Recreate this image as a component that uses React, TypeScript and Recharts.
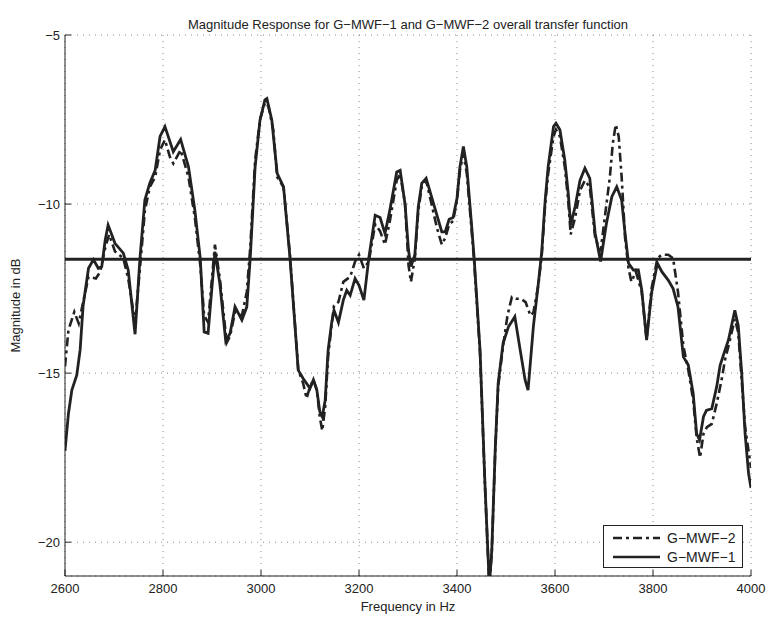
import React from 'react';
import {
  LineChart,
  Line,
  XAxis,
  YAxis,
  CartesianGrid,
  ReferenceLine,
  Legend
} from 'recharts';

// G-MWF-1 (solid)
const freq1 = [
  2600, 2607, 2614, 2624, 2631, 2637, 2648, 2658, 2668, 2675, 2682, 2688, 2702, 2719, 2729, 2743,
  2753, 2763, 2773, 2784, 2794, 2804, 2821, 2836, 2852, 2865, 2876, 2884, 2892, 2906, 2916, 2928,
  2937, 2947, 2961, 2971, 2978, 2988, 2998, 3008, 3012, 3022, 3033, 3046, 3059, 3069, 3076, 3086,
  3100, 3107, 3114, 3120, 3125, 3131, 3137, 3144, 3149, 3158, 3168, 3175, 3182, 3192, 3200, 3210,
  3220, 3233, 3243, 3253, 3263, 3277, 3284, 3294, 3301, 3306, 3314, 3321, 3328, 3337, 3348, 3359,
  3369, 3376, 3384, 3392, 3400, 3406, 3413, 3420, 3430, 3435, 3447, 3457, 3466, 3471, 3478, 3484,
  3494, 3505, 3518, 3529, 3539, 3545, 3556, 3566, 3573, 3580, 3586, 3597, 3602, 3610, 3620, 3627,
  3632, 3641, 3651, 3661, 3671, 3682, 3693, 3705, 3716, 3726, 3736, 3743, 3750, 3760, 3770, 3777,
  3787, 3797, 3809, 3818, 3831, 3841, 3851, 3862, 3872, 3882, 3889, 3895, 3903, 3909, 3920, 3930,
  3937, 3947, 3954, 3967, 3974, 3981, 3988, 3995, 4000
];
const mag1 = [
  -17.3, -16.2, -15.5, -15.06, -14.3, -13.0, -11.9, -11.64, -11.9, -11.85, -11.07, -10.62, -11.16, -11.45, -11.95, -13.85,
  -11.6, -9.88, -9.38, -9.0, -8.0, -7.71, -8.45, -8.09, -8.9, -10.18, -11.6, -13.78, -13.82, -11.41, -12.35, -14.05,
  -13.82, -13.04, -13.43, -13.04, -11.6, -8.9, -7.51, -6.92, -6.88, -7.51, -9.09, -9.49, -11.56, -13.53, -14.91, -15.16,
  -15.45, -15.2, -15.5, -16.14, -16.29, -15.8, -14.32, -13.53, -13.14, -13.5, -12.84, -12.55, -12.7, -12.2, -12.4, -12.84,
  -11.6, -10.33, -10.4, -10.87, -10.18, -9.05, -9.0, -10.0, -11.36, -11.85, -11.5, -10.08, -9.39, -9.24, -9.78, -10.33,
  -10.82, -10.82, -10.45, -10.4, -9.83, -8.9, -8.3, -8.9, -10.67, -11.6, -14.32, -18.26, -21.3, -20.24, -17.28, -15.3,
  -14.12, -13.63, -13.33, -14.32, -15.2, -15.5, -13.6, -12.35, -11.4, -9.88, -8.9, -7.71, -7.61, -7.8, -8.7, -9.68,
  -10.62, -10.08, -9.3, -8.94, -9.24, -10.87, -11.7, -10.57, -9.78, -9.49, -9.88, -10.87, -11.75, -11.95, -11.95, -12.54,
  -14.02, -12.64, -11.75, -12.0, -12.25, -12.5, -13.04, -14.52, -14.76, -15.6, -16.79, -16.98, -16.29, -16.1, -16.05, -15.4,
  -14.77, -14.32, -14.02, -13.14, -13.6, -15.0, -16.8, -17.96, -18.4
];

// G-MWF-2 (dash-dot)
const freq2 = [
  2600, 2607, 2619, 2628, 2637, 2648, 2663, 2672, 2682, 2690, 2702, 2719, 2729, 2743, 2753, 2763,
  2773, 2784, 2794, 2804, 2814, 2821, 2836, 2852, 2865, 2876, 2884, 2892, 2906, 2916, 2930, 2937,
  2947, 2961, 2971, 2978, 2988, 2998, 3008, 3015, 3025, 3033, 3046, 3059, 3069, 3076, 3086, 3093,
  3100, 3107, 3114, 3120, 3125, 3131, 3137, 3144, 3149, 3158, 3168, 3182, 3192, 3200, 3210, 3220,
  3233, 3243, 3253, 3263, 3277, 3284, 3294, 3301, 3306, 3314, 3321, 3328, 3337, 3348, 3359, 3369,
  3376, 3384, 3392, 3400, 3406, 3413, 3420, 3430, 3435, 3447, 3457, 3466, 3471, 3478, 3484, 3494,
  3503, 3512, 3520, 3530, 3540, 3550, 3556, 3566, 3573, 3580, 3586, 3597, 3602, 3610, 3620, 3627,
  3632, 3641, 3651, 3661, 3671, 3682, 3693, 3705, 3712, 3718, 3724, 3730, 3736, 3743, 3750, 3756,
  3765, 3777, 3787, 3797, 3809, 3818, 3831, 3841, 3851, 3862, 3872, 3882, 3889, 3896, 3903, 3910,
  3920, 3930, 3940, 3947, 3954, 3967, 3974, 3981, 3988, 3995, 4000
];
const mag2 = [
  -14.8, -13.73, -13.19, -13.53, -12.9, -12.15, -12.2, -12.0, -11.3, -10.9, -11.4, -11.6, -12.2, -13.5, -11.9, -10.2,
  -9.5, -9.2, -8.4, -8.1, -8.6, -8.8, -8.4, -9.2, -10.4, -11.8, -13.3, -13.5, -11.2, -12.2, -14.1, -13.9,
  -13.2, -13.3, -12.6, -11.3, -8.7, -7.5, -7.0, -7.1, -7.8, -9.2, -9.5, -11.5, -13.5, -14.9, -15.3, -15.75,
  -15.4, -15.2, -15.5, -16.3, -16.7, -16.0, -14.5, -13.6, -13.0, -12.9, -12.3, -12.15, -11.7, -11.5, -11.9, -11.7,
  -10.6, -10.8, -11.2, -10.5, -9.3, -9.1, -10.0, -11.8, -12.3, -11.6, -10.2, -9.5, -9.3, -10.0, -10.7, -11.2,
  -11.0, -10.6, -10.5, -9.9, -9.0, -8.5, -9.1, -10.8, -11.7, -14.4, -18.3, -21.3, -20.3, -17.3, -15.4, -14.2,
  -13.3, -12.75, -12.8, -12.8, -12.9, -13.3, -13.2, -12.4, -11.5, -10.0, -9.1, -8.0, -7.8, -8.0, -8.9, -9.9,
  -10.9, -10.4, -9.6, -9.3, -9.5, -11.0, -11.4, -10.0, -9.2, -8.2, -7.65, -8.0, -9.2, -11.0, -11.9, -12.3,
  -12.0, -12.6, -14.0, -12.5, -11.6, -11.5, -11.5, -11.6, -12.6, -14.2, -14.9, -15.8, -16.9, -17.5, -16.8, -16.6,
  -16.5, -15.9, -15.2, -14.6, -14.2, -13.4, -13.8, -15.2, -16.6, -17.3, -17.8
];

const xTicks = [2600, 2800, 3000, 3200, 3400, 3600, 3800, 4000];
const yTicks = [-20, -15, -10, -5];
const thresholdDb = -11.63;
const legendNames = ['G\u2212MWF\u22122', 'G\u2212MWF\u22121'];

const font = '"Liberation Sans", Arial, Helvetica, sans-serif';
const ink = '#222';
const dashDot = '9 4 3 4';

const series1 = freq1.map((f, i) => ({ x: f, y: mag1[i] }));
const series2 = freq2.map((f, i) => ({ x: f, y: mag2[i] }));

const fmt = (v: number) => String(v).replace('-', '\u2212');

const renderLegend = () => (
  <svg width={140} height={43} style={{ display: 'block' }}>
    <rect x={0.5} y={0.5} width={139} height={42} fill="#fff" stroke={ink} strokeWidth={1} />
    <line x1={10} x2={57} y1={13} y2={13} stroke={ink} strokeWidth={2.5} strokeDasharray={dashDot} />
    <text x={64} y={18} fontFamily={font} fontSize={14} fill={ink}>{legendNames[0]}</text>
    <line x1={10} x2={57} y1={32} y2={32} stroke={ink} strokeWidth={2.5} />
    <text x={64} y={37} fontFamily={font} fontSize={14} fill={ink}>{legendNames[1]}</text>
  </svg>
);

const App: React.FC = () => {
  return (
    <div style={{ position: 'absolute', left: 0, top: 0, width: 767, height: 617, background: '#fff', fontFamily: font }}>
      <div
        style={{
          position: 'absolute',
          left: 65,
          width: 686,
          top: 17,
          textAlign: 'center',
          fontSize: 13,
          color: ink
        }}
      >
        Magnitude Response for G{'\u2212'}MWF{'\u2212'}1 and G{'\u2212'}MWF{'\u2212'}2 overall transfer function
      </div>
      <LineChart
        width={767}
        height={617}
        margin={{ top: 35, right: 16, bottom: 6, left: 5 }}
      >
        <CartesianGrid stroke="#888" strokeDasharray="1 5" />
        <XAxis
          dataKey="x"
          type="number"
          domain={[2600, 4000]}
          ticks={xTicks}
          allowDataOverflow
          height={35}
          tickSize={-6}
          tickMargin={14}
          stroke={ink}
          tick={{ fill: ink, fontSize: 13, fontFamily: font }}
          label={{ value: 'Frequency in Hz', position: 'insideBottom', offset: 0, fill: ink, fontSize: 13, fontFamily: font }}
        />
        <XAxis xAxisId="top" orientation="top" dataKey="x" type="number" domain={[2600, 4000]} ticks={xTicks} height={0} tickSize={-6} tick={false} stroke={ink} />
        <YAxis
          type="number"
          domain={[-21, -5]}
          ticks={yTicks}
          allowDataOverflow
          width={60}
          tickSize={-6}
          tickMargin={11}
          stroke={ink}
          tickFormatter={fmt}
          tick={{ fill: ink, fontSize: 13, fontFamily: font }}
          label={{ value: 'Magnitude in dB', angle: -90, position: 'insideLeft', offset: 10, style: { textAnchor: 'middle' }, fill: ink, fontSize: 13, fontFamily: font }}
        />
        <YAxis yAxisId="right" orientation="right" type="number" domain={[-21, -5]} ticks={yTicks} width={0} tickSize={-6} tick={false} stroke={ink} />
        <ReferenceLine y={thresholdDb} stroke={ink} strokeWidth={3} />
        <Line
          data={series1}
          dataKey="y"
          type="linear"
          stroke={ink}
          strokeWidth={2.8}
          dot={false}
          isAnimationActive={false}
        />
        <Line
          data={series2}
          dataKey="y"
          type="linear"
          stroke={ink}
          strokeWidth={2.6}
          strokeDasharray={dashDot}
          dot={false}
          isAnimationActive={false}
        />
        <Legend
          layout="horizontal"
          verticalAlign="middle"
          align="center"
          content={renderLegend}
          wrapperStyle={{ left: 603, top: 525, width: 140, height: 43 }}
        />
      </LineChart>
    </div>
  );
};

export default App;
